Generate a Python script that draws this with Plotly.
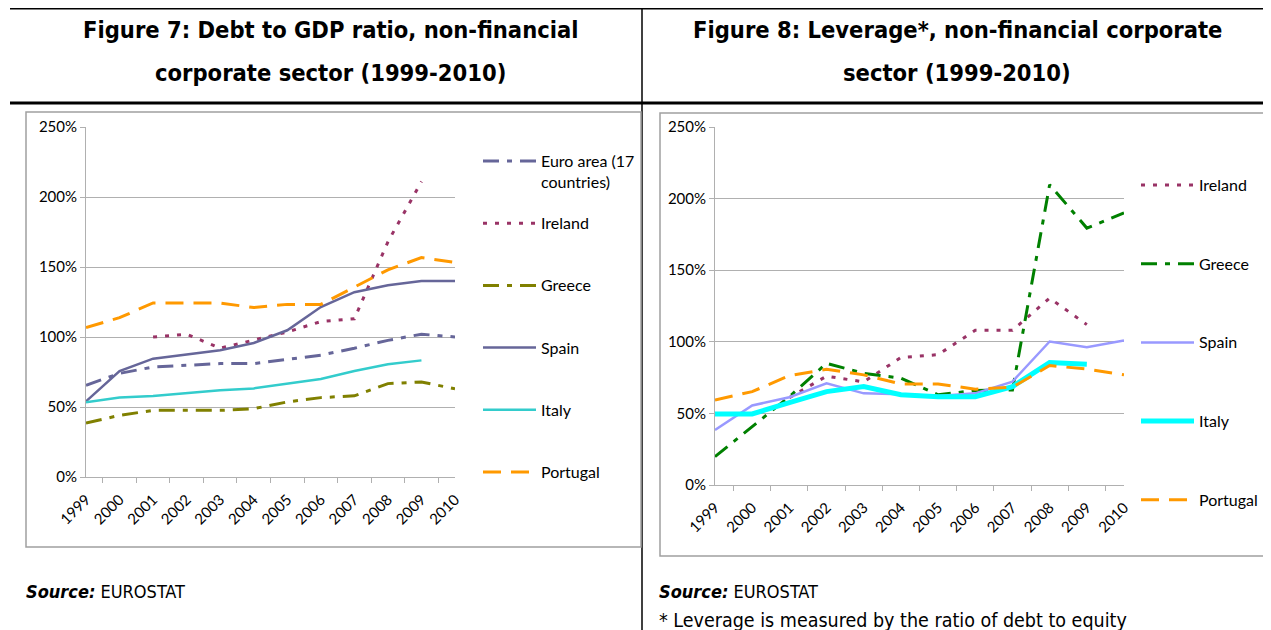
import plotly.graph_objects as go

W, H = 1271, 630
OFF = 8  # the page body keeps its default 8px margin

years = [str(y) for y in range(1999, 2011)]

# Figure 7: debt to GDP ratio (%)
debt_euro = [65.5, 74, 78.6, 80, 81, 81, 84, 87, 92, 97.6, 102, 100]
debt_ireland = [None, None, 100, 102, 92, 97.6, 103.6, 111, 113, 168, 211, None]
debt_greece = [38.6, 44, 47.6, 47.6, 47.6, 48.8, 53.6, 56.7, 58, 66.7, 67.9, 63]
debt_spain = [54, 75.7, 84.5, 87.6, 90.5, 95.7, 104.8, 121.4, 132, 137, 140, 140]
debt_italy = [53.3, 56.7, 57.9, 60, 62, 63.3, 66.7, 70, 75.7, 80.5, 83.3, None]
debt_portugal = [106.7, 113.8, 124.3, 124.3, 124.3, 121, 123.3, 123.3, 135.7, 148, 156.7, 153.3]

# Figure 8: leverage, debt to equity (%)
lev_ireland = [None, None, 61, 76, 72, 89, 91, 108, 108, 130.5, 112, None]
lev_greece = [19.8, 40.8, 61.7, 85, 78, 74.6, 63, 66, 66.4, 209.7, 179.4, 190]
lev_spain = [38.4, 55.5, 61.3, 71, 64, 63.4, 62.2, 64, 72.2, 100.2, 96.2, 101]
lev_italy = [49.6, 49.6, 57.5, 65.2, 68.7, 63, 61.7, 61.7, 68.7, 85.5, 84.3, None]
lev_portugal = [59.4, 65.2, 76.4, 80.8, 76.9, 70.6, 70.6, 66.9, 68.3, 83.4, 81, 77]

DASHDOT = "16px,8px,5px,8px"
DOTS = "4px,8px"
DASH = "18px,10px"

# name, values, colour, width, dash
left_series = [
    ("Euro area (17<br>countries)", debt_euro, "#666699", 3, DASHDOT),
    ("Ireland", debt_ireland, "#993366", 3, DOTS),
    ("Greece", debt_greece, "#808000", 3, DASHDOT),
    ("Spain", debt_spain, "#666699", 2.5, "solid"),
    ("Italy", debt_italy, "#33CCCC", 2.5, "solid"),
    ("Portugal", debt_portugal, "#FF9900", 3, DASH),
]
right_series = [
    ("Ireland", lev_ireland, "#993366", 3, DOTS),
    ("Greece", lev_greece, "#008000", 3, DASHDOT),
    ("Spain", lev_spain, "#9999FF", 2.5, "solid"),
    ("Italy", lev_italy, "#00FFFF", 5, "solid"),
    ("Portugal", lev_portugal, "#FF9900", 3, DASH),
]


def px(x):
    return (x - OFF) / W


def py(y):
    return 1 - (y - OFF) / H


fig = go.Figure()
for name, vals, color, width, dash in left_series:
    fig.add_trace(go.Scatter(x=years, y=vals, mode="lines", name=name,
                             line=dict(color=color, width=width, dash=dash),
                             xaxis="x", yaxis="y", showlegend=False))
for name, vals, color, width, dash in right_series:
    fig.add_trace(go.Scatter(x=years, y=vals, mode="lines", name=name,
                             line=dict(color=color, width=width, dash=dash),
                             xaxis="x2", yaxis="y2", showlegend=False))

tick_font = dict(family="Lato, Open Sans, sans-serif", size=15, color="#000000")
grid = "#B0B0B0"
xax = dict(type="category", showgrid=False, showline=True, linecolor=grid,
           ticks="outside", tickson="boundaries", ticklen=5, tickcolor=grid,
           tickangle=-45, tickfont=tick_font, ticklabelstandoff=7, fixedrange=True)
yax = dict(range=[0, 250], dtick=50, ticksuffix="%", showgrid=True, gridcolor=grid,
           showline=True, linecolor=grid, ticks="outside", ticklen=5, tickcolor=grid,
           tickfont=tick_font, zeroline=False, fixedrange=True)

shapes = []
annotations = []

# page rules
shapes.append(dict(type="line", xref="paper", yref="paper", x0=px(10), x1=1, y0=py(8), y1=py(8),
                   line=dict(color="black", width=3)))
shapes.append(dict(type="line", xref="paper", yref="paper", x0=px(10), x1=1, y0=py(103), y1=py(103),
                   line=dict(color="black", width=3)))
shapes.append(dict(type="line", xref="paper", yref="paper", x0=px(642), x1=px(642), y0=py(8), y1=0,
                   line=dict(color="black", width=1.5)))
# chart frames
shapes.append(dict(type="rect", xref="paper", yref="paper", x0=px(26), x1=px(641), y0=py(112), y1=py(547),
                   line=dict(color="#A0A0A0", width=1.5)))
shapes.append(dict(type="rect", xref="paper", yref="paper", x0=px(660), x1=px(1265), y0=py(113), y1=py(556),
                   line=dict(color="#A0A0A0", width=1.5)))

title_font = dict(family="DejaVu Sans Condensed, Liberation Sans Narrow, sans-serif", size=23.5, color="black")
for text, x, y in [
    ("<b>Figure 7: Debt to GDP ratio, non-financial</b>", 330, 30),
    ("<b>corporate sector (1999-2010)</b>", 330, 73),
    ("<b>Figure 8: Leverage*, non-financial corporate</b>", 957, 30),
    ("<b>sector (1999-2010)</b>", 957, 73),
]:
    annotations.append(dict(text=text, x=px(x), y=py(y), xref="paper", yref="paper",
                            xanchor="center", yanchor="middle", showarrow=False, font=title_font))

note_family = "DejaVu Sans Condensed, Liberation Sans Narrow, sans-serif"
for text, x, y, size in [
    ("<b><i>Source:</i></b> EUROSTAT", 24, 591, 18),
    ("<b><i>Source:</i></b> EUROSTAT", 657, 591, 18),
    ("* Leverage is measured by the ratio of debt to equity", 657, 620, 19.5),
]:
    annotations.append(dict(text=text, x=px(x), y=py(y), xref="paper", yref="paper",
                            xanchor="left", yanchor="middle", showarrow=False,
                            font=dict(family=note_family, size=size, color="black")))

# legends
leg_font = dict(family="Lato, Open Sans, sans-serif", size=16, color="black")


def add_legend(series, x0, x1, y_first, step):
    for i, (name, vals, color, width, dash) in enumerate(series):
        y = y_first + i * step
        shapes.append(dict(type="line", xref="paper", yref="paper", x0=px(x0), x1=px(x1),
                           y0=py(y), y1=py(y), line=dict(color=color, width=width, dash=dash)))
        annotations.append(dict(text=name, x=px(x1 + 3), y=py(y - 12), xref="paper", yref="paper",
                                xanchor="left", yanchor="top", align="left", showarrow=False,
                                font=leg_font))


add_legend(left_series, 483, 536, 161, 62.2)
add_legend(right_series, 1141, 1194, 185, 78.7)

fig.update_layout(
    width=W, height=H,
    margin=dict(l=0, r=0, t=0, b=0, autoexpand=False),
    paper_bgcolor="white", plot_bgcolor="white",
    xaxis=dict(xax, domain=[px(86), px(455)], anchor="y"),
    yaxis=dict(yax, domain=[py(477), py(127)], anchor="x"),
    xaxis2=dict(xax, domain=[px(715), px(1124)], anchor="y2"),
    yaxis2=dict(yax, domain=[py(485), py(127)], anchor="x2"),
    shapes=shapes,
    annotations=annotations,
    showlegend=False,
)

fig.write_html("out.html")
